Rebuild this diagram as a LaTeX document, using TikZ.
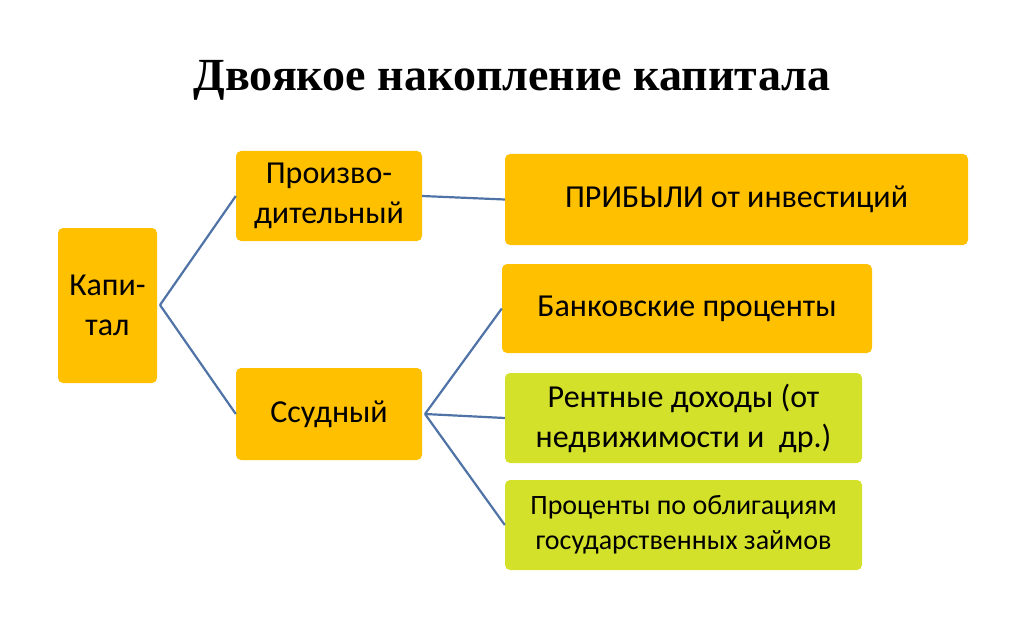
\documentclass[tikz,border=0pt]{standalone}
\usepackage{fontspec}
\setmainfont{Carlito}
\newfontfamily\titlefont{Liberation Serif}
\definecolor{org}{HTML}{FFC000}
\definecolor{grn}{HTML}{D4E12B}
\definecolor{ln}{HTML}{4F73A6}
\begin{document}
\begin{tikzpicture}[x=1pt,y=-1pt,
 box/.style={draw=none,fill=org,rounded corners=5pt,align=center,inner sep=0pt,font=\fontsize{32}{40}\selectfont},
 gbox/.style={box,fill=grn},
 con/.style={draw=ln,line width=2.2pt}]
\useasboundingbox (0,0) rectangle (1024,639);
\node[font=\titlefont\bfseries\fontsize{46}{54}\selectfont] (t) at (512,80) {Двоякое накопление капитала};
\newcommand{\bx}[6]{\node[#1,minimum width=#4-#2,minimum height=#5-#3] (#6) at ({(#2+#4)/2},{(#3+#5)/2})}
\bx{box}{58}{228}{157}{383}{k} {Капи-\\тал};
\bx{box}{236}{151}{422}{241}{p} {Произво-\\дительный};
\bx{box}{236}{368}{422}{460}{s} {Ссудный};
\bx{box}{505}{154}{968}{245}{a} {ПРИБЫЛИ от инвестиций};
\bx{box}{502}{264}{872}{353}{b} {Банковские проценты};
\bx{gbox}{505}{373}{862}{463}{c} {Рентные доходы (от\\недвижимости и\ \ др.)};
\node[gbox,minimum width=357,minimum height=90,font=\fontsize{28}{35}\selectfont] (d) at (683.5,525) {Проценты по облигациям\\государственных займов};
\coordinate (k1) at (160,305);
\draw[con] (k1) -- (p.west);
\draw[con] (k1) -- (s.west);
\draw[con] (p.east) -- (a.west);
\coordinate (s1) at (425,414);
\draw[con] (s1) -- (b.west);
\draw[con] (s1) -- (c.west);
\draw[con] (s1) -- (d.west);
\end{tikzpicture}
\end{document}
